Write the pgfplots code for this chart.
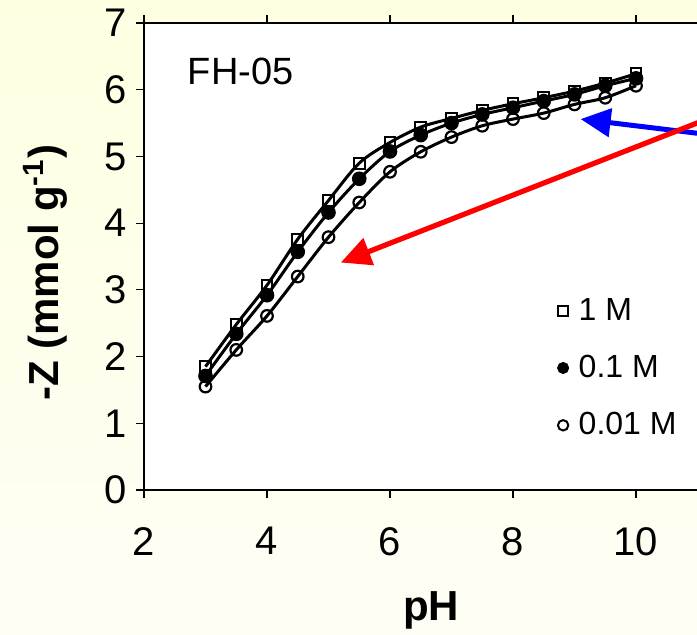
\documentclass[border=0pt]{standalone}
\usepackage{fontspec}
\setmainfont{Liberation Sans}
\usepackage{pgfplots}
\pgfplotsset{compat=1.18}
\usetikzlibrary{arrows.meta}
\definecolor{bgtop}{RGB}{255,255,226}
\definecolor{bgbot}{RGB}{254,254,245}
\begin{document}
\begin{tikzpicture}
\shade[top color=bgtop, bottom color=bgbot] (-72pt,-72pt) rectangle (276.5pt,245pt);
\begin{axis}[
  scale only axis, width=307.5pt, height=233.5pt,
  xmin=2, xmax=12, ymin=0, ymax=7,
  xtick={2,4,...,10}, ytick={0,1,...,7},
  tick align=outside, major tick length=4pt,
  axis line style={line width=1pt},
  tick style={black, line width=0.6pt},
  axis background/.style={fill=white},
  /pgf/number format/assume math mode=true,
  ticklabel style={font=\fontsize{20}{24}\selectfont},
  xticklabel style={yshift=-11pt},
  yticklabel style={xshift=-1pt},
  xlabel={\textbf{pH}},
  ylabel={\textbf{-Z (mmol g\textsuperscript{-1})}},
  every axis x label/.style={at={(axis description cs:0.467,0)}, anchor=center, yshift=-60pt, font=\fontsize{21}{24}\selectfont},
  every axis y label/.style={at={(axis description cs:-0.161,0.465)}, anchor=center, rotate=90, font=\fontsize{21}{24}\selectfont},
  clip=false,
  legend style={draw=none, fill=none, at={(axis cs:8.62,3.0)}, anchor=north west,
    font=\fontsize{16}{19}\selectfont, row sep=12pt},
  legend cell align=left,
]
% 1 M
\addplot[black, line width=1.5pt, smooth, mark=square, mark size=2.7pt, mark options={solid, fill=white, line width=1pt}, forget plot] coordinates {
(3,1.85)(3.5,2.48)(4,3.07)(4.5,3.76)(5,4.34)(5.5,4.90)(6,5.21)(6.5,5.44)(7,5.57)(7.5,5.69)(8,5.79)(8.5,5.88)(9,5.98)(9.5,6.10)(10,6.24)};
% 0.1 M
\addplot[black, line width=1.5pt, smooth, mark=*, mark size=2.9pt, mark options={solid, fill=black}, forget plot] coordinates {
(3,1.71)(3.5,2.34)(4,2.92)(4.5,3.57)(5,4.16)(5.5,4.665)(6,5.075)(6.5,5.32)(7,5.50)(7.5,5.63)(8,5.73)(8.5,5.83)(9,5.93)(9.5,6.06)(10,6.17)};
% 0.01 M
\addplot[black, line width=1.5pt, smooth, mark=o, mark size=2.9pt, mark options={solid, fill=white, line width=1.1pt}, forget plot] coordinates {
(3,1.55)(3.5,2.10)(4,2.61)(4.5,3.20)(5,3.79)(5.5,4.31)(6,4.77)(6.5,5.07)(7,5.29)(7.5,5.46)(8,5.56)(8.5,5.65)(9,5.78)(9.5,5.88)(10,6.06)};
\addlegendimage{only marks, mark=square, mark size=2.6pt, mark options={fill=white, line width=1pt}}
\addlegendentry{\hspace{3pt}1 M}
\addlegendimage{only marks, mark=*, mark size=2.8pt, mark options={fill=black}}
\addlegendentry{\hspace{3pt}0.1 M}
\addlegendimage{only marks, mark=o, mark size=2.6pt, mark options={fill=white, line width=1pt}}
\addlegendentry{\hspace{3pt}0.01 M}
\node[anchor=west, font=\fontsize{19}{22}\selectfont] at (axis cs:2.6,6.28) {FH-05};
\draw[blue, line width=2.5pt, -{Triangle[length=15pt,width=14pt]}] (axis cs:11.6,5.28) -- (axis cs:9.10,5.56);
\draw[red, line width=2.6pt, -{Triangle[length=15pt,width=14pt]}] (axis cs:11.6,5.72) -- (axis cs:5.20,3.41);
\end{axis}
\pgfresetboundingbox
\path[use as bounding box] (-72pt,-72pt) rectangle (276.5pt,245pt);
\end{tikzpicture}
\end{document}
